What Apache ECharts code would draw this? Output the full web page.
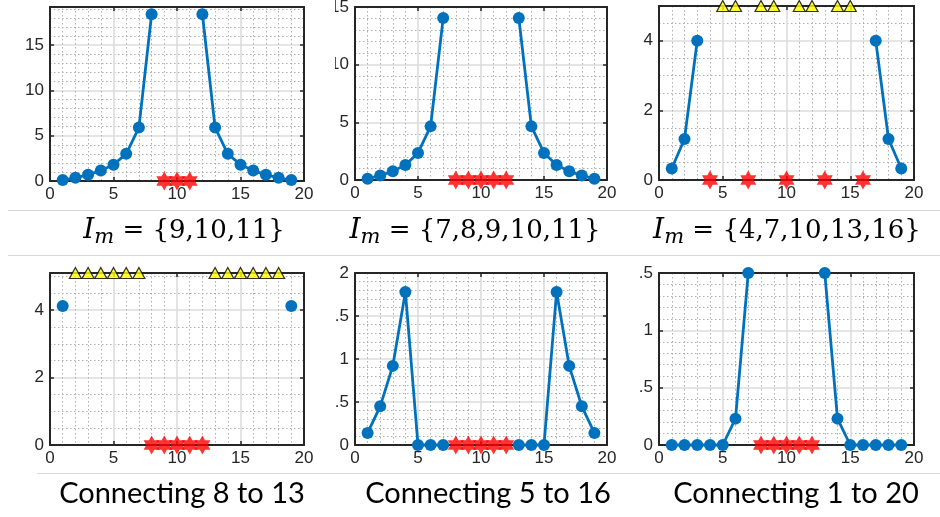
<!DOCTYPE html>
<html>
<head>
<meta charset="utf-8">
<script src="https://cdn.jsdelivr.net/npm/echarts@6/dist/echarts.min.js"></script>
<style>
  body { margin: 0; background: #fff; width: 940px; height: 517px; position: relative; overflow: hidden; }
  .panel { position: absolute; }
  .sep { position: absolute; height: 1px; background: #d8d8d8; z-index: 5; }
</style>
</head>
<body>
<div id="p1" class="panel" style="left:0;top:0;width:335px;height:254px"></div>
<div id="p2" class="panel" style="left:335px;top:0;width:295px;height:254px"></div>
<div id="p3" class="panel" style="left:630px;top:0;width:310px;height:254px"></div>
<div id="p4" class="panel" style="left:0;top:254px;width:335px;height:263px"></div>
<div id="p5" class="panel" style="left:335px;top:254px;width:303px;height:263px"></div>
<div id="p6" class="panel" style="left:638px;top:254px;width:302px;height:263px"></div>
<div class="sep" style="left:8px;top:210px;width:932px"></div>
<div class="sep" style="left:8px;top:255px;width:932px"></div>
<div class="sep" style="left:37px;top:473px;width:903px"></div>
<script>
// node index along x
const nodes = [1, 2, 3, 4, 5, 6, 7, 8, 9, 10, 11, 12, 13, 14, 15, 16, 17, 18, 19];

// blue curves (null = not drawn)
const blue1 = [0.1, 0.35, 0.7, 1.15, 1.8, 3.0, 5.9, 18.4, null, null, null, 18.4, 5.9, 3.0, 1.8, 1.15, 0.7, 0.35, 0.1];
const blue2 = [0.1, 0.4, 0.75, 1.3, 2.35, 4.65, 14.05, null, null, null, null, null, 14.05, 4.65, 2.35, 1.3, 0.75, 0.4, 0.1];
const blue3 = [0.33, 1.18, 4.0, null, null, null, null, null, null, null, null, null, null, null, null, null, 4.0, 1.18, 0.33];
const blue4 = [4.12, null, null, null, null, null, null, null, null, null, null, null, null, null, null, null, null, null, 4.12];
const blue5 = [0.14, 0.45, 0.92, 1.78, 0, 0, 0, null, null, null, null, null, 0, 0, 0, 1.78, 0.92, 0.45, 0.14];
const blue6 = [0, 0, 0, 0, 0, 0.23, 1.5, null, null, null, null, null, 1.5, 0.23, 0, 0, 0, 0, 0];

// red stars (x positions, drawn at y = 0)
const stars1 = [9, 10, 11];
const stars2 = [8, 9, 10, 11, 12];
const stars3 = [4, 7, 10, 13, 16];
const stars4 = [8, 9, 10, 11, 12];
const stars5 = [8, 9, 10, 11, 12];
const stars6 = [8, 9, 10, 11, 12];

// yellow triangles (x positions, drawn at the top of the axes)
const tri3 = [5, 6, 8, 9, 11, 12, 14, 15];
const tri4 = [2, 3, 4, 5, 6, 7, 13, 14, 15, 16, 17, 18];

// y axis limits / steps
const yMax = [19.2, 15, 5, 5.1, 2, 1.5];
const yStep = [5, 5, 2, 2, 0.5, 0.5];
const yMinor = [5, 5, 4, 4, 5, 5];

// captions
const setLabels = ['{9,10,11}', '{7,8,9,10,11}', '{4,7,10,13,16}'];
const connectLabels = ['Connecting 8 to 13', 'Connecting 5 to 16', 'Connecting 1 to 20'];

const STAR = 'path://M50,0L64.4,25L93.3,25L78.9,50L93.3,75L64.4,75L50,100L35.6,75L6.7,75L21.1,50L6.7,25L35.6,25Z';
const AX = '#262626';

function pairs(ys) {
  return nodes.map((x, i) => [x, ys[i] === null ? '-' : ys[i]]);
}

function makePanel(id, k, grid, blue, stars, tris, caption) {
  const chart = echarts.init(document.getElementById(id));
  const labelStyle = { fontFamily: 'Liberation Sans', fontSize: 17, color: AX, margin: 6 };
  const line = { show: true, onZero: false, lineStyle: { color: AX, width: 2 } };
  const tick = { show: true, inside: true, length: 4, lineStyle: { color: AX, width: 1.5 } };
  const major = { show: true, lineStyle: { color: '#dcdcdc', width: 1.6 } };
  const minor = { show: true, lineStyle: { color: '#aeaeae', width: 1, type: [1.5, 2.5] } };

  const series = [{
    type: 'line',
    data: pairs(blue),
    clip: false,
    connectNulls: false,
    symbol: 'circle',
    symbolSize: 12,
    itemStyle: { color: '#0072BD' },
    lineStyle: { color: '#0072BD', width: 2.8 },
    z: 3
  }, {
    type: 'scatter',
    data: stars.map(x => [x, 0]),
    clip: false,
    symbol: STAR,
    symbolSize: [16, 19],
    itemStyle: { color: '#FF0000' },
    z: 4
  }];
  if (tris) {
    series.push({
      type: 'scatter',
      data: tris.map(x => [x, yMax[k]]),
      clip: false,
      symbol: 'triangle',
      symbolSize: [12, 11],
      itemStyle: { color: '#FFFF00', borderColor: '#000', borderWidth: 1.2 },
      z: 5
    });
  }

  chart.setOption({
    animation: false,
    grid: { left: grid[0], top: grid[1], width: grid[2], height: grid[3], outerBoundsMode: 'none' },
    xAxis: [{
      type: 'value', min: 0, max: 20, interval: 5, position: 'bottom',
      axisLine: line, axisTick: tick, axisLabel: Object.assign({}, labelStyle, { margin: 5 }),
      splitLine: major, minorTick: { show: false, splitNumber: 5 }, minorSplitLine: minor
    }, {
      type: 'value', min: 0, max: 20, interval: 5, position: 'top',
      axisLine: line, axisTick: tick, axisLabel: { show: false }, splitLine: { show: false }
    }],
    yAxis: [{
      type: 'value', min: 0, max: yMax[k], interval: yStep[k], position: 'left',
      axisLine: line, axisTick: tick,
      axisLabel: Object.assign({ showMaxLabel: yMax[k] % yStep[k] === 0 }, labelStyle),
      splitLine: major, minorTick: { show: false, splitNumber: yMinor[k] }, minorSplitLine: minor
    }, {
      type: 'value', min: 0, max: yMax[k], interval: yStep[k], position: 'right',
      axisLine: line, axisTick: tick, axisLabel: { show: false }, splitLine: { show: false }
    }],
    graphic: [caption],
    series: series
  });
}

function setCaption(cx, cy, set) {
  return {
    type: 'text', x: cx, y: cy, z: 10,
    style: {
      text: '{i|I}{s|m} = ' + set,
      fontFamily: 'DejaVu Serif', fontSize: 26, fill: '#000',
      align: 'center', verticalAlign: 'middle', lineHeight: 34,
      rich: {
        i: { fontFamily: 'DejaVu Serif', fontStyle: 'italic', fontSize: 28, lineHeight: 34 },
        s: { fontFamily: 'DejaVu Serif', fontStyle: 'italic', fontSize: 21, lineHeight: 15, verticalAlign: 'bottom' }
      }
    }
  };
}

function textCaption(cx, cy, txt) {
  return {
    type: 'text', x: cx, y: cy, z: 10,
    style: { text: txt, fontFamily: 'Lato', fontSize: 29, fill: '#000', align: 'center', verticalAlign: 'middle' }
  };
}

makePanel('p1', 0, [50, 7, 254, 174], blue1, stars1, null, setCaption(184, 231, setLabels[0]));
makePanel('p2', 1, [20, 7, 252, 173], blue2, stars2, null, setCaption(140, 231, setLabels[1]));
makePanel('p3', 2, [29, 6, 255, 174], blue3, stars3, tri3, setCaption(157, 231, setLabels[2]));
makePanel('p4', 3, [50, 19, 254, 172], blue4, stars4, tri4, textCaption(182, 240, connectLabels[0]));
makePanel('p5', 4, [20, 19, 252, 172], blue5, stars5, null, textCaption(153, 240, connectLabels[1]));
makePanel('p6', 5, [21, 19, 255, 172], blue6, stars6, null, textCaption(158, 240, connectLabels[2]));
</script>
</body>
</html>
